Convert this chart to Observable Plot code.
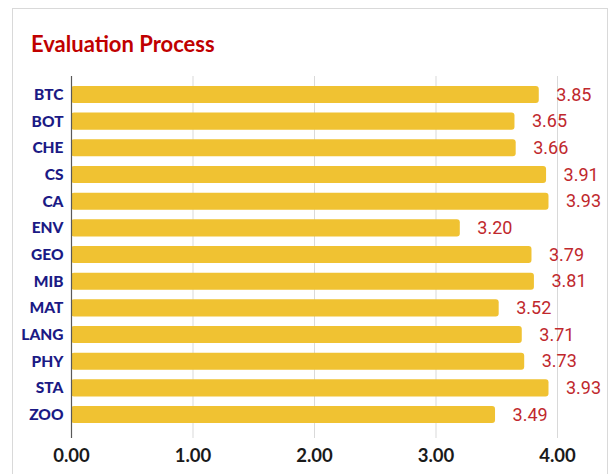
<!DOCTYPE html>
<html><head><meta charset="utf-8">
<script src="https://cdn.jsdelivr.net/npm/d3@7"></script>
<script src="https://cdn.jsdelivr.net/npm/@observablehq/plot@0.6"></script>
<style>
body{margin:0;background:#fff;width:611px;height:474px;overflow:hidden;position:relative;font-family:Lato,sans-serif}
#frame{position:absolute;left:12px;top:8px;width:596px;height:520px;border:1px solid #d9d9d9;box-sizing:border-box}
#title{position:absolute;left:31px;top:33px;font-family:Lato,sans-serif;font-weight:bold;font-size:22px;line-height:22px;color:#C00000;white-space:nowrap}
#chart{position:absolute;left:0;top:0}
</style></head>
<body>
<div id="frame"></div>
<div id="title">Evaluation Process</div>
<div id="chart"></div>
<script>
const categories = ["BTC","BOT","CHE","CS","CA","ENV","GEO","MIB","MAT","LANG","PHY","STA","ZOO"];
const values = [3.85,3.65,3.66,3.91,3.93,3.20,3.79,3.81,3.52,3.71,3.73,3.93,3.49];
const tickValues = [0,1,2,3,4];
const data = categories.map((c,i)=>({cat:c, v:values[i]}));
const chart = Plot.plot({
  width:611, height:474,
  marginLeft:71, marginRight:54, marginTop:76, marginBottom:36,
  style:{fontFamily:"Lato, sans-serif", background:"transparent", overflow:"visible"},
  x:{domain:[0,4]},
  y:{domain:categories, paddingInner:0.36, paddingOuter:0.466, align:0.4, round:false},
  marks:[
    Plot.gridX(tickValues.slice(1), {stroke:"#d9d9d9", strokeOpacity:1}),
    Plot.barX(data,{x:"v", y:"cat", fill:"#F0C232", rx:3}),
    Plot.ruleX([0],{stroke:"#595959", strokeWidth:1.2}),
    Plot.text(data,{x:"v", y:"cat", text:d=>d.v.toFixed(2), dx:17, dy:0, textAnchor:"start", fill:"#C0282D", fontSize:18, fontFamily:"Roboto, sans-serif"}),
    Plot.axisX(tickValues,{tickSize:0, tickPadding:10, fontSize:18.5, fontWeight:"bold", fill:"#1a1a1a", tickFormat:d=>d.toFixed(2), label:null}),
    Plot.axisY({tickSize:0, tickPadding:8, fontSize:15.5, fontWeight:900, fill:"#1B1A85", label:null})
  ]
});
document.getElementById("chart").appendChild(chart);
</script>
</body></html>
